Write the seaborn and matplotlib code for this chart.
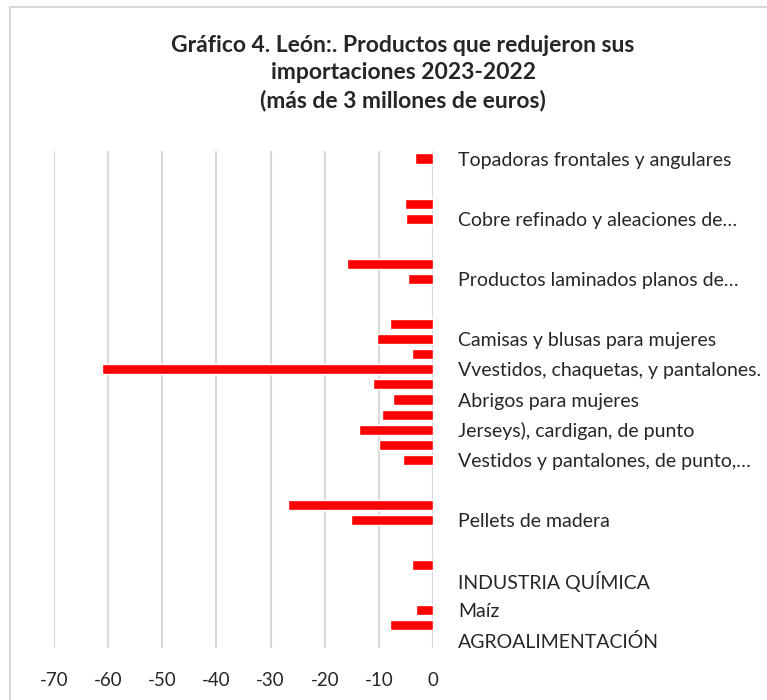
import pandas as pd
import matplotlib
matplotlib.use("Agg")
import matplotlib.pyplot as plt
import seaborn as sns
from matplotlib.patches import Rectangle

# Filas del eje de categorías (de arriba abajo); las vacías no llevan etiqueta visible
categorias = [
    "Topadoras frontales y angulares", "", "", "",
    "Cobre refinado y aleaciones de…", "", "", "",
    "Productos laminados planos de…", "", "", "",
    "Camisas y blusas para mujeres", "",
    "Vvestidos, chaquetas, y pantalones.", "",
    "Abrigos para mujeres", "",
    "Jerseys), cardigan, de punto", "",
    "Vestidos y pantalones, de punto,…", "", "", "",
    "Pellets de madera", "", "", "",
    "INDUSTRIA QUÍMICA", "",
    "Maíz", "",
    "AGROALIMENTACIÓN",
]

# Variación de importaciones (millones de euros); None = sin barra
valores = [
    -3.3, None, None, -5.2,
    -5.0, None, None, -15.9,
    -4.6, None, None, -7.9,
    -10.4, -3.9,
    -61.2, -11.0,
    -7.4, -9.5,
    -13.6, -10.0,
    -5.6, None, None, -26.7,
    -15.2, None, None, -3.9,
    None, None,
    -3.2, -7.9,
    None,
]

titulo = ("Gráfico 4. León:. Productos que redujeron sus\n"
          "importaciones 2023-2022\n"
          "(más de 3 millones de euros)")
xticks = [-70, -60, -50, -40, -30, -20, -10, 0]

sns.set_style("white")
plt.rcParams['font.family'] = ['Lato', 'DejaVu Sans']

df = pd.DataFrame({"fila": range(len(categorias)), "valor": valores, "cat": categorias})
barras = df.dropna(subset=["valor"])

W, H = 767, 700
fig = plt.figure(figsize=(W / 100, H / 100), dpi=100)
ax = fig.add_axes([54 / W, 1 - 648 / H, (433 - 54) / W, (648 - 151) / H])

sns.barplot(data=barras, x="valor", y="fila", orient="h", native_scale=True,
            color="#ff0000", saturation=1, width=0.67, ax=ax)

ax.set_xlim(-70, 0)
ax.set_ylim(len(categorias) - 0.5, -0.5)
ax.set_xticks(xticks)
ax.set_xticklabels([str(t) for t in xticks], fontsize=13.5)
ax.grid(axis="x", color="#d9d9d9", linewidth=1.5)
ax.grid(axis="y", visible=False)
ax.set_axisbelow(True)
for s in ax.spines.values():
    s.set_visible(False)

etiquetadas = df[df["cat"] != ""]
ax.set_yticks(etiquetadas["fila"])
ax.set_yticklabels(etiquetadas["cat"], fontsize=14)
ax.yaxis.tick_right()
ax.tick_params(axis="y", length=0, pad=18)
ax.tick_params(axis="x", length=0, pad=17)
ax.set_xlabel("")
ax.set_ylabel("")

fig.text(403 / W, 1 - 35 / H, titulo, ha="center", va="top", fontsize=16.5,
         fontweight="bold", linespacing=1.36)

# borde del área del gráfico
fig.patches.append(Rectangle((10 / W, -0.1), 1.2, 1 - 7 / H + 0.1, transform=fig.transFigure,
                             fill=False, edgecolor="#d9d9d9", linewidth=1.5))

fig.savefig("out.png", dpi=100)
